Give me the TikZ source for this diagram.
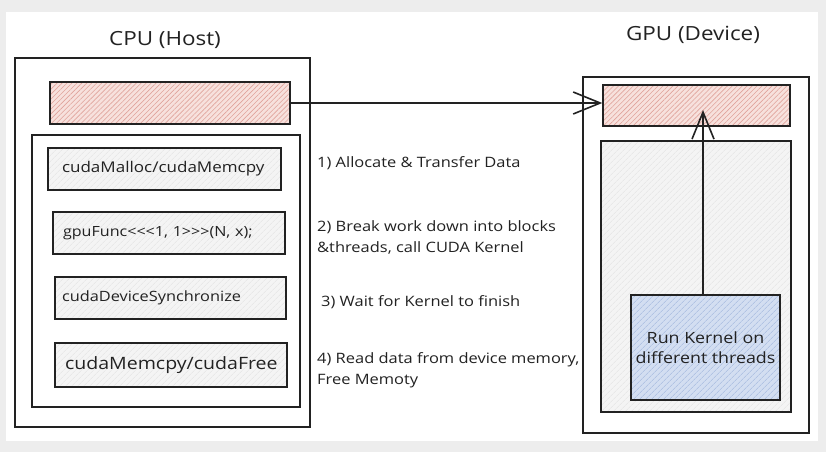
\documentclass[tikz,border=0pt]{standalone}
\usepackage{fontspec}
\setmainfont[FakeStretch=1.15]{Open Sans}
\usetikzlibrary{arrows.meta,patterns.meta}
\definecolor{bgout}{HTML}{EDEDED}
\definecolor{ink}{HTML}{222222}
\definecolor{redfill}{HTML}{F7E1DD}
\definecolor{redhatch}{HTML}{E0A39B}
\definecolor{grayfill}{HTML}{F4F4F4}
\definecolor{grayhatch}{HTML}{E2E2E2}
\definecolor{bluefill}{HTML}{D3DEF1}
\definecolor{bluehatch}{HTML}{9FB5DD}
\tikzset{
  frame/.style={draw=ink, line width=1.4pt, fill=white},
  redbar/.style={draw=ink, line width=1.4pt, preaction={fill=redfill},
    pattern={Lines[angle=45,distance=3.5pt,line width=0.6pt]}, pattern color=redhatch},
  graypanel/.style={draw=ink, line width=1.4pt, preaction={fill=grayfill},
    pattern={Lines[angle=45,distance=4pt,line width=0.5pt]}, pattern color=grayhatch},
  codebox/.style={graypanel, align=left, inner ysep=0pt,
    text=ink, anchor=center},
  bluebox/.style={draw=ink, line width=1.4pt, preaction={fill=bluefill},
    pattern={Lines[angle=45,distance=4pt,line width=0.5pt]}, pattern color=bluehatch,
    align=center, text=ink, font=\fontsize{15.5}{20}\selectfont},
  title/.style={text=ink, font=\fontsize{19.5}{22}\selectfont},
  step label/.style={text=ink, anchor=west, align=left, inner xsep=0pt,
    font=\fontsize{14.3}{21}\selectfont},
  arr/.style={draw=ink, line width=1.6pt, -{Straight Barb[length=27pt,width=22pt,line width=1.6pt]}}
}
\begin{document}
\begin{tikzpicture}[x=1pt,y=-1pt]
\useasboundingbox (0,0) rectangle (826,452);
\fill[bgout] (0,0) rectangle (826,452);
\fill[white] (6,12) rectangle (818,441);

% CPU side
\node[title] (cputitle) at (165,40) {CPU (Host)};
\draw[frame] (15,58) rectangle (310,427);
\node[redbar, minimum width=240, minimum height=42] (cpubar) at (170,103) {};
\draw[frame] (32,135) rectangle (300,407);
\node[codebox, minimum width=233, minimum height=42, inner xsep=14pt, text width=205,
  font=\fontsize{14.8}{17}\selectfont] (c1) at (164.5,169) {cudaMalloc/cudaMemcpy};
\node[codebox, minimum width=232, minimum height=42, inner xsep=10pt, text width=212,
  font=\fontsize{14}{17}\selectfont] (c2) at (169,233) {gpuFunc<{}<{}<1, 1>{}>{}>(N, x);};
\node[codebox, minimum width=231, minimum height=42, inner xsep=7pt, text width=217,
  font=\fontsize{14.2}{17}\selectfont] (c3) at (170.5,298) {cudaDeviceSynchronize};
\node[codebox, minimum width=232, minimum height=44, inner xsep=10pt, text width=212,
  font=\fontsize{17}{20}\selectfont] (c4) at (171,365) {cudaMemcpy/cudaFree};

% step labels
\node[step label] (s1) at (317,163) {1) Allocate \& Transfer Data};
\node[step label] (s2) at (317,237) {2) Break work down into blocks\\\&threads, call CUDA Kernel};
\node[step label] (s3) at (321,302) {3) Wait for Kernel to finish};
\node[step label] (s4) at (317,370) {4) Read data from device memory,\\Free Memoty};

% GPU side
\node[title] (gputitle) at (693,35) {GPU (Device)};
\draw[frame] (583,77) rectangle (809,433);
\node[redbar, minimum width=187, minimum height=41] (gpubar) at (696.5,105.5) {};
\node[graypanel, minimum width=190, minimum height=271] (gpanel) at (696,276.5) {};
\node[bluebox, minimum width=149, minimum height=105] (blue) at (705.5,347.5)
  {Run Kernel on\\different threads};
\coordinate (gtip) at (703,110);

% arrows
\draw[arr] (cpubar.east) -- (cpubar.east -| gpubar.west);
\draw[arr] (blue.north -| gtip) -- (gtip);
\end{tikzpicture}
\end{document}
